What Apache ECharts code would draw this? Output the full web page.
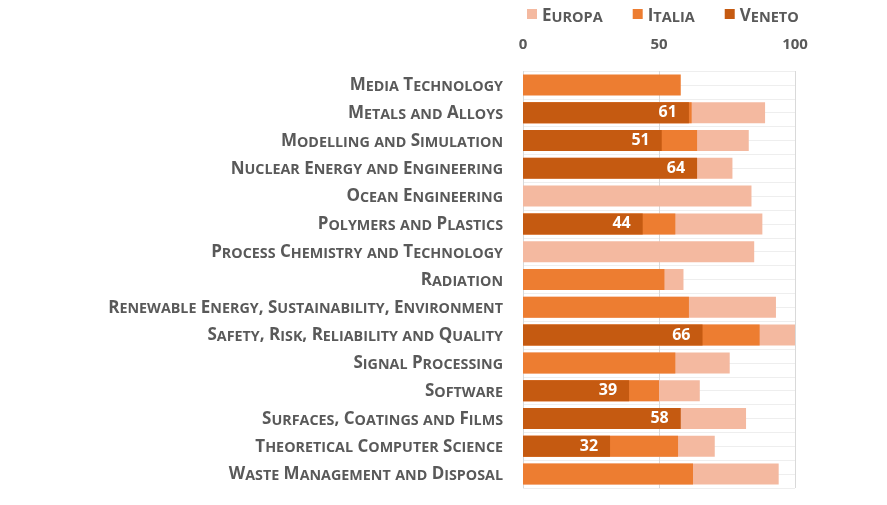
<!DOCTYPE html>
<html>
<head>
<meta charset="utf-8">
<script src="https://cdn.jsdelivr.net/npm/echarts@6/dist/echarts.min.js"></script>
<style>html,body{margin:0;padding:0;background:#fff;}#c{width:887px;height:505px;}</style>
</head>
<body>
<div id="c"></div>
<script>
const categories = [
  "Media Technology",
  "Metals and Alloys",
  "Modelling and Simulation",
  "Nuclear Energy and Engineering",
  "Ocean Engineering",
  "Polymers and Plastics",
  "Process Chemistry and Technology",
  "Radiation",
  "Renewable Energy, Sustainability, Environment",
  "Safety, Risk, Reliability and Quality",
  "Signal Processing",
  "Software",
  "Surfaces, Coatings and Films",
  "Theoretical Computer Science",
  "Waste Management and Disposal"
];
const europa = [null, 89, 83, 77, 84, 88, 85, 59, 93, 100, 76, 65, 82, 70.5, 94];
const italia = [58, 62, 64, null, null, 56, null, 52, 61, 87, 56, 50, null, 57, 62.5];
const veneto = [null, 61, 51, 64, null, 44, null, null, null, 66, null, 39, 58, 32, null];
const xTicks = [0, 50, 100];

const TXT = '#595959';
const FONT = 'Open Sans';

function smallCaps(str) {
  let out = '';
  let cur = null, buf = '';
  for (const ch of str) {
    const isLower = ch !== ch.toUpperCase();
    const style = isLower ? 's' : 'b';
    const c = ch.toUpperCase();
    if (style !== cur) {
      if (buf) out += '{' + cur + '|' + buf + '}';
      cur = style; buf = c;
    } else buf += c;
  }
  if (buf) out += '{' + cur + '|' + buf + '}';
  return out;
}

function richFor(bs, ss) {
  return {
    b: {fontSize: bs, fontWeight: 'bold', color: TXT, fontFamily: FONT, lineHeight: 22, verticalAlign: 'bottom'},
    s: {fontSize: ss, fontWeight: 'bold', color: TXT, fontFamily: FONT, lineHeight: 22, verticalAlign: 'bottom'}
  };
}

const chart = echarts.init(document.getElementById('c'), null, {renderer: 'canvas'});
chart.setOption({
  animation: false,
  backgroundColor: '#fff',
  color: ['#F4B9A0', '#ED7D31', '#C55A11'],
  legend: {
    top: 3,
    left: 522,
    itemWidth: 10,
    itemHeight: 10,
    itemGap: 30,
    icon: 'rect',
    formatter: n => smallCaps(n),
    textStyle: {rich: richFor(17, 14.5)},
    data: ['Europa', 'Italia', 'Veneto']
  },
  grid: {left: 523, right: 92, top: 71, bottom: 17, containLabel: false},
  xAxis: {
    type: 'value',
    position: 'top',
    min: 0, max: 100, interval: 50,
    axisLine: {show: false},
    axisTick: {show: false},
    axisLabel: {
      color: TXT, fontWeight: 'bold', fontSize: 15, fontFamily: FONT, margin: 19,
      formatter: v => xTicks.includes(v) ? String(v) : ''
    },
    splitLine: {show: true, lineStyle: {color: '#d9d9d9', width: 1}}
  },
  yAxis: [{
    type: 'category',
    data: categories,
    inverse: true,
    axisLine: {show: false},
    axisTick: {show: false},
    splitLine: {show: false},
    axisLabel: {
      margin: 20,
      padding: [0, 0, 4, 0],
      formatter: v => smallCaps(v),
      rich: richFor(17, 14.3)
    }
  }, {
    type: 'value',
    min: 0, max: 30, interval: 1,
    inverse: true,
    position: 'right',
    axisLine: {show: false},
    axisTick: {show: false},
    axisLabel: {show: false},
    splitLine: {show: true, lineStyle: {color: '#eeeeee', width: 1}}
  }],
  series: [
    {name: 'Europa', type: 'bar', data: europa, barWidth: 21, barGap: '-100%', z: 1, silent: true},
    {name: 'Italia', type: 'bar', data: italia, barWidth: 21, barGap: '-100%', z: 2, silent: true},
    {name: 'Veneto', type: 'bar', data: veneto, barWidth: 21, barGap: '-100%', z: 3, silent: true,
     label: {show: true, position: 'insideRight', distance: 12, color: '#fff', fontWeight: 'bold', fontSize: 16, fontFamily: FONT}}
  ]
});
</script>
</body>
</html>
